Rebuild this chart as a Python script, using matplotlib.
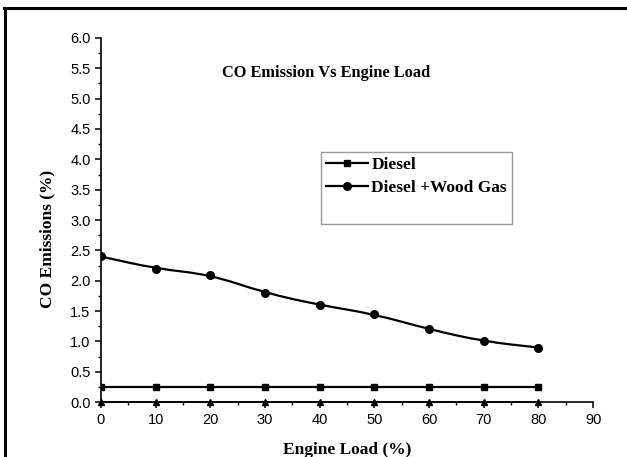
import matplotlib
matplotlib.use("Agg")
import matplotlib.pyplot as plt
from matplotlib.lines import Line2D
from matplotlib.path import Path
from matplotlib.patches import PathPatch
from matplotlib.ticker import MultipleLocator, FormatStrFormatter
import numpy as np

engine_load = [0, 10, 20, 30, 40, 50, 60, 70, 80]
diesel = [0.25, 0.25, 0.25, 0.25, 0.25, 0.25, 0.25, 0.25, 0.25]
diesel_wood_gas = [2.4, 2.2, 2.1, 1.8, 1.6, 1.45, 1.2, 1.0, 0.9]
third_series = [0, 0, 0, 0, 0, 0, 0, 0, 0]

serif = "Liberation Serif"
plt.rcParams["font.family"] = ["Liberation Sans", "DejaVu Sans"]

fig = plt.figure(figsize=(6.27, 4.57), dpi=100)
ax = fig.add_axes([0.161, 0.120, 0.785, 0.797])

# diesel: straight line with squares
ax.plot(engine_load, diesel, color="black", lw=1.6, marker="s", ms=5, zorder=3)

# wood gas: smooth curve (quadratic b-spline using the data as control points)
pts = np.column_stack([engine_load, diesel_wood_gas])
verts = [pts[0], (pts[0] + pts[1]) / 2]
codes = [Path.MOVETO, Path.LINETO]
for i in range(1, len(pts) - 1):
    verts += [pts[i], (pts[i] + pts[i + 1]) / 2]
    codes += [Path.CURVE3, Path.CURVE3]
verts.append(pts[-1])
codes.append(Path.LINETO)
ax.add_patch(PathPatch(Path(verts, codes), fill=False, lw=1.6, edgecolor="black", zorder=3))
ax.plot(engine_load, diesel_wood_gas, ls="none", color="black", marker="o", ms=5.5, zorder=4)

# third series sitting on the x axis
ax.plot(engine_load, third_series, color="black", lw=1.2, marker="^", ms=4, clip_on=False, zorder=5)

ax.set_xlim(0, 90)
ax.set_ylim(0, 6.0)
ax.xaxis.set_major_locator(MultipleLocator(10))
ax.xaxis.set_minor_locator(MultipleLocator(5))
ax.yaxis.set_major_locator(MultipleLocator(0.5))
ax.yaxis.set_minor_locator(MultipleLocator(0.25))
ax.yaxis.set_major_formatter(FormatStrFormatter("%.1f"))

for side in ["top", "right"]:
    ax.spines[side].set_visible(False)
for side in ["left", "bottom"]:
    ax.spines[side].set_linewidth(1.2)

ax.tick_params(which="major", direction="out", length=4.5, width=1.1, labelsize=10.5, pad=3)
ax.tick_params(which="minor", direction="out", length=2.5, width=1.0)

ax.set_xlabel("Engine Load (%)", fontfamily=serif, fontweight="bold", fontsize=12.5, labelpad=11)
ax.set_ylabel("CO Emissions (%)", fontfamily=serif, fontweight="bold", fontsize=12.5)
ax.yaxis.set_label_coords(-0.093, 0.448)
ax.text(0.458, 0.905, "CO Emission Vs Engine Load", transform=ax.transAxes, ha="center", va="center",
        fontfamily=serif, fontweight="bold", fontsize=11.8)

h1 = Line2D([], [], color="black", lw=1.6, marker="s", ms=5)
h2 = Line2D([], [], color="black", lw=1.6, marker="o", ms=5.5)
h3 = Line2D([], [], color="none")
leg = ax.legend([h1, h2, h3], ["Diesel", "Diesel +Wood Gas", " "], loc="upper left",
                bbox_to_anchor=(0.447, 0.687), frameon=True, fancybox=False,
                prop={"family": serif, "weight": "bold", "size": 12.5},
                handlelength=2.4, handletextpad=0.2, borderpad=0.3, labelspacing=0.38,
                borderaxespad=0)
leg.get_frame().set_edgecolor("#808080")
leg.get_frame().set_linewidth(1.0)

# outer frame (top and left edges)
fig.add_artist(Line2D([4 / 627, 1], [1 - 8 / 457, 1 - 8 / 457], color="black", lw=2.2, transform=fig.transFigure))
fig.add_artist(Line2D([5 / 627, 5 / 627], [0, 1 - 8 / 457], color="black", lw=2.2, transform=fig.transFigure))

fig.savefig("out.png", dpi=100)
